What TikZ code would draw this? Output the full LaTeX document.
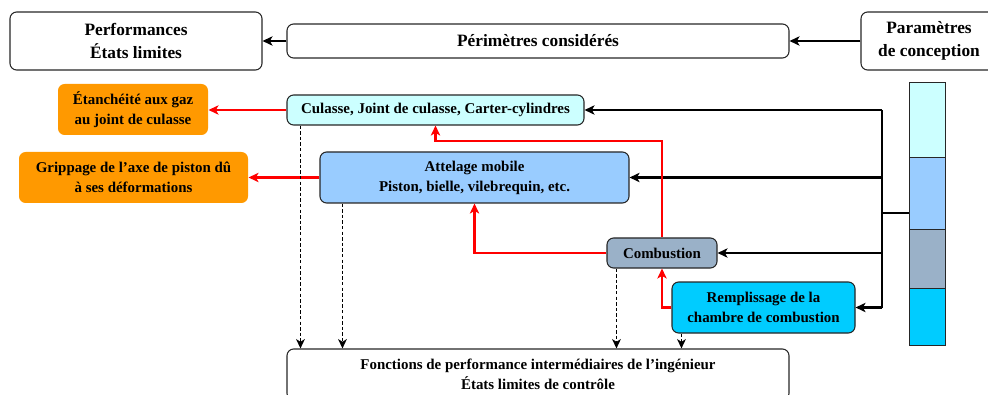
\documentclass[tikz,border=0pt]{standalone}
\usepackage{fontspec}
\setmainfont{Liberation Serif}
\usetikzlibrary{arrows.meta,fit,calc}
\definecolor{cyanL}{HTML}{CCFFFF}
\definecolor{blueL}{HTML}{99CCFF}
\definecolor{greyB}{HTML}{9AB1C8}
\definecolor{cyanS}{HTML}{00CCFF}
\definecolor{orangeF}{HTML}{FF9900}
\definecolor{redF}{HTML}{FF0000}
\tikzset{
  box/.style={draw=black!85, line width=0.8pt, rounded corners=5pt, inner sep=0pt, align=center, font=\bfseries\fontsize{11.2}{13.5}\selectfont},
  bigbox/.style={box, font=\bfseries\fontsize{13}{16}\selectfont},
  obox/.style={box, draw=none, fill=orangeF},
  seg/.style={draw=black!85, line width=0.7pt, inner sep=0pt},
  blk/.style={line width=2.1pt, black, -{Stealth[length=7.5pt,width=7pt,inset=2pt]}},
  bus/.style={line width=2.1pt, black},
  redln/.style={line width=2.1pt, redF, -{Stealth[length=7.5pt,width=7pt,inset=2pt]}},
  dsh/.style={line width=1.3pt, black, dash pattern=on 2.6pt off 1.6pt, -{Stealth[length=7pt,width=6.5pt,inset=2pt]}}
}
\begin{document}
\begin{tikzpicture}[x=0.75pt,y=-0.75pt]
\useasboundingbox (0,0) rectangle (988,395);
% top row
\node[bigbox, fit={(10,12) (262,70)}] (perf) {};
\node[font=\bfseries\fontsize{13}{17}\selectfont, align=center] at (perf.center) {Performances\\États limites};
\node[bigbox, fit={(287,24) (789,58)}] (perim) {};
\node[font=\bfseries\fontsize{13}{17}\selectfont] at (perim.center) {Périmètres considérés};
\node[bigbox, fit={(861,12) (1010,70)}] (param) {};
\node[font=\bfseries\fontsize{13}{17}\selectfont, align=center] at (929,41) {Paramètres\\de conception};
% orange boxes
\node[obox, fit={(58,84) (208,135)}] (etan) {};
\node[font=\bfseries\fontsize{11.2}{15}\selectfont, align=center] at (etan.center) {Étanchéité aux gaz\\au joint de culasse};
\node[obox, fit={(19,152) (248,203)}] (grip) {};
\node[font=\bfseries\fontsize{11.2}{15}\selectfont, align=center] at (grip.center) {Grippage de l’axe de piston dû\\à ses déformations};
% component boxes
\node[box, fill=cyanL, fit={(287,95) (584,125)}] (cul) {};
\node[font=\bfseries\fontsize{11.2}{15}\selectfont] at (cul.center) {Culasse, Joint de culasse, Carter-cylindres};
\node[box, fill=blueL, fit={(320,152) (629,203)}] (att) {};
\node[font=\bfseries\fontsize{11.2}{15}\selectfont, align=center] at (att.center) {Attelage mobile\\Piston, bielle, vilebrequin, etc.};
\node[box, fill=greyB, fit={(607,238) (717,268)}] (comb) {};
\node[font=\bfseries\fontsize{11.2}{15}\selectfont] at (comb.center) {Combustion};
\node[box, fill=cyanS, fit={(672,282) (855,333)}] (remp) {};
\node[font=\bfseries\fontsize{11.2}{15}\selectfont, align=center] at (remp.center) {Remplissage de la\\chambre de combustion};
\node[box, fit={(287,349) (789,400)}] (fonc) {};
\node[font=\bfseries\fontsize{11.2}{15}\selectfont, align=center] at (538,374) {Fonctions de performance intermédiaires de l’ingénieur\\États limites de contrôle};
% parameter bar
\node[seg, fill=cyanL, fit={(909,82) (945,157)}] (b1) {};
\node[seg, fill=blueL, fit={(909,157) (945,229)}] (b2) {};
\node[seg, fill=greyB, fit={(909,229) (945,288)}] (b3) {};
\node[seg, fill=cyanS, fit={(909,288) (945,345)}] (b4) {};
% top arrows
\draw[blk] (param.west |- perim.east) -- (perim.east);
\draw[blk] (perim.west) -- (perim.west -| perf.east);
% bus
\coordinate (j) at (882,213);
\draw[bus] (j) -- (j -| b2.west);
\draw[bus] (cul.east -| j) -- (remp.east -| j);
\draw[blk] (cul.east -| j) -- (cul.east);
\draw[blk] (att.east -| j) -- (att.east);
\draw[blk] (comb.east -| j) -- (comb.east);
\draw[blk] (remp.east -| j) -- (remp.east);
% red arrows
\draw[redln] (cul.west) -- (cul.west -| etan.east);
\draw[redln] (att.west) -- (att.west -| grip.east);
\coordinate (r1) at (0,141);
\draw[redln] (comb.north) |- (cul.south |- r1) -- (cul.south);
\draw[redln] (comb.west) -| (att.south);
\draw[redln] (remp.west) -| (comb.south);
% dashed arrows
\coordinate (d1) at ($(cul.south west)+(14,0)$);
\coordinate (d2) at ($(att.south west)+(23,0)$);
\coordinate (d3) at ($(comb.south west)+(10,0)$);
\coordinate (d4) at ($(remp.south west)+(10,0)$);
\draw[dsh] (d1) -- (d1 |- fonc.north);
\draw[dsh] (d2) -- (d2 |- fonc.north);
\draw[dsh] (d3) -- (d3 |- fonc.north);
\draw[dsh] (d4) -- (d4 |- fonc.north);
\end{tikzpicture}
\end{document}
